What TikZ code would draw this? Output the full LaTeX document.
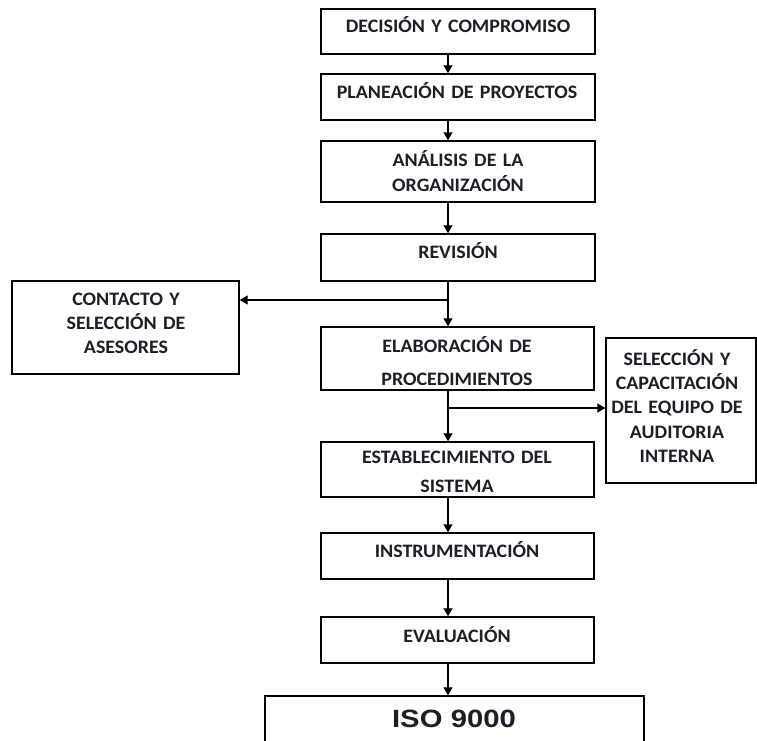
\documentclass[tikz,border=0pt]{standalone}
\usepackage{fontspec}
\usetikzlibrary{arrows.meta}
\newfontfamily\boxfont[FakeStretch=1.05]{Carlito}
\newfontfamily\isofont[FakeStretch=1.17]{Liberation Sans}
\definecolor{ink}{HTML}{1E1E28}
\begin{document}
\begin{tikzpicture}[x=1pt,y=-1pt,
  box/.style={draw=black, line width=1.4pt, rectangle, inner sep=0pt},
  txt/.style={anchor=base, inner sep=0pt, align=center, text=ink},
  lbl/.style={txt, font=\boxfont\bfseries\fontsize{19}{#1}\selectfont},
  lbl/.default=24,
  arr/.style={line width=1.3pt, -{Triangle[length=8pt,width=9pt]}}]
\clip (0,0) rectangle (757,740);
\fill[white] (0,0) rectangle (757,740);

% main column of steps
\node[box, minimum width=274pt, minimum height=45pt] (b1) at (458,31.5) {};
\node[box, minimum width=274pt, minimum height=46pt] (b2) at (458,97) {};
\node[box, minimum width=274pt, minimum height=61pt] (b3) at (458,171.5) {};
\node[box, minimum width=274pt, minimum height=47pt] (b4) at (458,257.5) {};
\node[box, minimum width=273pt, minimum height=63pt] (b5) at (457.5,358.5) {};
\node[box, minimum width=273pt, minimum height=55pt] (b6) at (457.5,469.5) {};
\node[box, minimum width=273pt, minimum height=46pt] (b7) at (457.5,556) {};
\node[box, minimum width=273pt, minimum height=46pt] (b8) at (457.5,640) {};
\node[box, minimum width=379pt, minimum height=64pt] (b9) at (454.5,728) {};

% side boxes
\node[box, minimum width=227pt, minimum height=93pt] (c) at (125.5,327.5) {};
\node[box, minimum width=150pt, minimum height=145pt] (s) at (681,410.5) {};

% box texts
\node[lbl, text width=270pt] (t1) at (458,32.5) {DECISIÓN Y COMPROMISO};
\node[lbl, text width=270pt] (t2) at (457,98) {PLANEACIÓN DE PROYECTOS};
\node[lbl=25, text width=270pt] (t3) at (458,166) {ANÁLISIS DE LA\\ORGANIZACIÓN};
\node[lbl, text width=270pt] (t4) at (458,258) {REVISIÓN};
\node[lbl=24, text width=220pt] (tc) at (126,305) {CONTACTO Y\\SELECCIÓN DE\\ASESORES};
\node[lbl=33, text width=270pt] (t5) at (457,352) {ELABORACIÓN DE\\PROCEDIMIENTOS};
\node[lbl=24.4, text width=148pt] (ts) at (677,365) {SELECCIÓN Y\\CAPACITACIÓN\\DEL EQUIPO DE\\AUDITORIA\\INTERNA};
\node[lbl=29, text width=270pt] (t6) at (457,463) {ESTABLECIMIENTO DEL\\SISTEMA};
\node[lbl, text width=270pt] (t7) at (457,557) {INSTRUMENTACIÓN};
\node[lbl, text width=270pt] (t8) at (457,642) {EVALUACIÓN};
\node[txt, font=\isofont\bfseries\fontsize{25}{30}\selectfont, text width=370pt] (t9) at (454,727) {ISO 9000};

% connectors
\coordinate (col) at (448,0);
\coordinate (j1) at (448,300);
\coordinate (j2) at (448,408);
\draw[arr] (b1.south -| col) -- (b2.north -| col);
\draw[arr] (b2.south -| col) -- (b3.north -| col);
\draw[arr] (b3.south -| col) -- (b4.north -| col);
\draw[arr] (b4.south -| col) -- (b5.north -| col);
\draw[arr] (b5.south -| col) -- (b6.north -| col);
\draw[arr] (b6.south -| col) -- (b7.north -| col);
\draw[arr] (b7.south -| col) -- (b8.north -| col);
\draw[arr] (b8.south -| col) -- (b9.north -| col);
\draw[arr] (j1) -- (j1 -| c.east);
\draw[arr] (j2) -- (j2 -| s.west);
\end{tikzpicture}
\end{document}
